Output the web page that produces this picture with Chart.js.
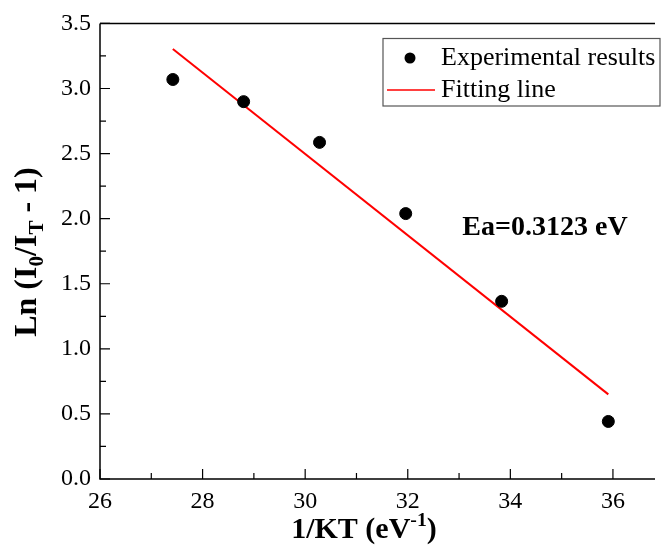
<!DOCTYPE html>
<html>
<head>
<meta charset="utf-8">
<script src="https://cdn.jsdelivr.net/npm/chart.js@4.4.0/dist/chart.umd.min.js"></script>
<style>
html, body { margin: 0; padding: 0; background: #fff; }
</style>
</head>
<body>
<canvas id="canvas" width="662" height="549"></canvas>
<script>
// data (1/kT at 323..423 K)
var xExp = [27.42, 28.80, 30.28, 31.96, 33.83, 35.91];
var yExp = [3.069, 2.899, 2.586, 2.039, 1.365, 0.442];
var xFit = [27.42, 35.91];
var yFit = [3.303, 0.650];
var xTicks = [26, 28, 30, 32, 34, 36];
var xMinor = [27, 29, 31, 33, 35];
var yTicks = [0, 0.5, 1.0, 1.5, 2.0, 2.5, 3.0, 3.5];
var yMinor = [0.25, 0.75, 1.25, 1.75, 2.25, 2.75, 3.25];

const SERIF = "Liberation Serif";
Chart.defaults.font.family = SERIF;
Chart.defaults.color = "#000";

function zip(xs, ys) {
    var out = [];
    for (var i = 0; i < xs.length; i++) out.push({x: xs[i], y: ys[i]});
    return out;
}

// text with sub/superscripts, centered at 0,0
function drawRich(ctx, parts, size, bold) {
    var w = 0;
    var wt = bold ? "bold " : "";
    for (var p of parts) {
        var s = p[1] ? size * 0.66 : size;
        ctx.font = wt + s + "px " + SERIF;
        p.w = ctx.measureText(p[0]).width;
        w += p.w;
    }
    var x = -w / 2;
    ctx.textBaseline = "middle";
    ctx.textAlign = "left";
    for (var p of parts) {
        var s = p[1] ? size * 0.66 : size;
        var dy = 0;
        if (p[1] == "sub") dy = size * 0.3;
        if (p[1] == "sup") dy = -size * 0.3;
        ctx.font = wt + s + "px " + SERIF;
        ctx.fillText(p[0], x, dy);
        x += p.w;
    }
}

var ramcek = {
    id: 'ramcek',
    afterDraw: function (chart) {
        var ctx = chart.ctx;
        var a = chart.chartArea;
        var sx = chart.scales.x;
        var sy = chart.scales.y;
        ctx.save();
        ctx.strokeStyle = "#000";
        ctx.lineWidth = 1.5;
        ctx.beginPath();
        ctx.moveTo(a.left, a.top);
        ctx.lineTo(a.left, a.bottom);
        ctx.lineTo(a.right, a.bottom);
        ctx.moveTo(a.left, a.top);
        ctx.lineTo(a.right, a.top);
        ctx.stroke();

        // ticks pointing inside
        ctx.lineWidth = 1.2;
        ctx.beginPath();
        for (var v of xTicks) {
            var px = sx.getPixelForValue(v);
            ctx.moveTo(px, a.bottom); ctx.lineTo(px, a.bottom - 10);
        }
        for (var v of xMinor) {
            var px = sx.getPixelForValue(v);
            ctx.moveTo(px, a.bottom); ctx.lineTo(px, a.bottom - 6);
        }
        for (var v of yTicks) {
            var py = sy.getPixelForValue(v);
            ctx.moveTo(a.left, py); ctx.lineTo(a.left + 10, py);
        }
        for (var v of yMinor) {
            var py = sy.getPixelForValue(v);
            ctx.moveTo(a.left, py); ctx.lineTo(a.left + 6, py);
        }
        ctx.stroke();

        // axis titles
        ctx.fillStyle = "#000";
        ctx.save();
        ctx.translate(364, 530);
        drawRich(ctx, [["1/KT (eV", 0], ["-1", "sup"], [")", 0]], 30, true);
        ctx.restore();

        ctx.save();
        ctx.translate(28, 252);
        ctx.rotate(-Math.PI / 2);
        drawRich(ctx, [["Ln (I", 0], ["0", "sub"], ["/I", 0], ["T", "sub"], [" - 1)", 0]], 32, true);
        ctx.restore();

        // activation energy
        ctx.font = "bold 28px " + SERIF;
        ctx.textAlign = "center";
        ctx.textBaseline = "middle";
        ctx.fillText("Ea=0.3123 eV", 545, 228);

        // legenda
        var ds = chart.data.datasets;
        ctx.strokeStyle = "#555";
        ctx.lineWidth = 1.2;
        ctx.strokeRect(383, 38.5, 277, 67.5);
        ctx.fillStyle = ds[0].backgroundColor;
        ctx.beginPath();
        ctx.arc(410, 58, 5.5, 0, Math.PI * 2);
        ctx.fill();
        ctx.strokeStyle = ds[1].borderColor;
        ctx.lineWidth = 1.5;
        ctx.beginPath();
        ctx.moveTo(387, 90); ctx.lineTo(435, 90);
        ctx.stroke();
        ctx.fillStyle = "#000";
        ctx.font = "26px " + SERIF;
        ctx.textAlign = "left";
        ctx.fillText(ds[0].label, 441, 58);
        ctx.fillText(ds[1].label, 441, 90);
        ctx.restore();
    }
};

var canvas = document.getElementById('canvas');
new Chart(canvas, {
    type: 'scatter',
    data: {
        datasets: [{
            label: "Experimental results",
            data: zip(xExp, yExp),
            backgroundColor: "#000",
            borderColor: "#000",
            pointRadius: 6,
            pointHoverRadius: 6
        }, {
            label: "Fitting line",
            data: zip(xFit, yFit),
            showLine: true,
            borderColor: "#ff0000",
            backgroundColor: "#ff0000",
            borderWidth: 2,
            pointRadius: 0
        }]
    },
    plugins: [ramcek],
    options: {
        responsive: false,
        animation: false,
        devicePixelRatio: 1,
        layout: {padding: {top: 20, right: 0, left: 0, bottom: 0}},
        plugins: {
            legend: {display: false},
            tooltip: {enabled: false}
        },
        scales: {
            x: {
                type: 'linear',
                min: 26,
                max: 36.82,
                grid: {display: false, drawTicks: false},
                border: {display: false},
                ticks: {
                    color: "#000",
                    padding: 8,
                    maxRotation: 0,
                    font: {family: SERIF, size: 24}
                },
                afterBuildTicks: function (scale) {
                    scale.ticks = xTicks.map(function (v) { return {value: v}; });
                },
                afterFit: function (scale) { scale.height = 70; }
            },
            y: {
                type: 'linear',
                min: 0,
                max: 3.5,
                grid: {display: false, drawTicks: false},
                border: {display: false},
                ticks: {
                    color: "#000",
                    padding: 9,
                    font: {family: SERIF, size: 24},
                    callback: function (v) { return v.toFixed(1); }
                },
                afterBuildTicks: function (scale) {
                    scale.ticks = yTicks.map(function (v) { return {value: v}; });
                },
                afterFit: function (scale) { scale.width = 100; }
            }
        }
    }
});
</script>
</body>
</html>
